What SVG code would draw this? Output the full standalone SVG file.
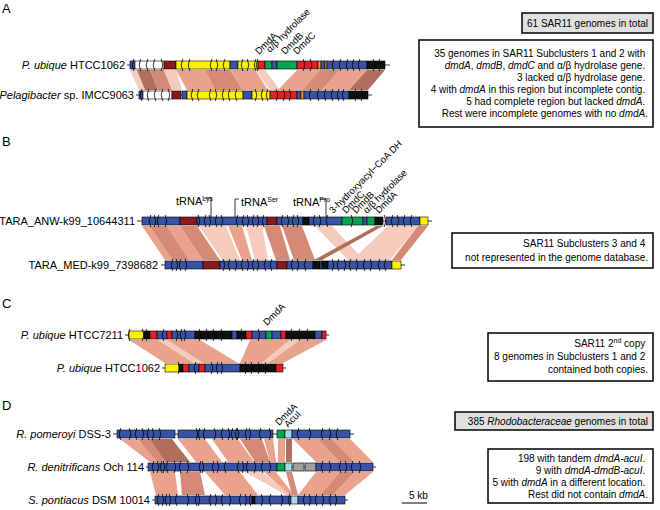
<svg xmlns="http://www.w3.org/2000/svg" xmlns:xlink="http://www.w3.org/1999/xlink" width="660" height="510" viewBox="0 0 660 510">
<style>
text{font-family:"Liberation Sans",Arial,sans-serif;fill:#000}
.lab{font-size:11px}
.pl{font-size:13px}
.box{font-size:10px}
.rot{font-size:9.5px}
.it{font-style:italic}
.bl{stroke:#000;stroke-width:0.8;fill:none}
.g{stroke:#000;stroke-width:0.6}
.bu{fill:#3953a4}.dr{fill:#8b1a1a}.re{fill:#e31e24}.ye{fill:#fff200}.gr{fill:#00a651}.or{fill:#f7941d}.bk{fill:#111}.wh{fill:#fff}.gy{fill:#a0a0a0}.lb{fill:#a8d8f0}
.r1{fill:#f4cbbd}.r2{fill:#e9a38d}.r3{fill:#d48a74}.r4{fill:#b06e5e}
.fr{fill:#fff;stroke:#000;stroke-width:1.5}
.fg{fill:#e0e0e0;stroke:#000;stroke-width:1.5}
</style>
<defs>
<path id="tr" d="M-0.8,-6 L0.8,0 L-0.8,6" fill="none" stroke="#000" stroke-width="0.8"/>
<path id="tl" d="M0.8,-6 L-0.8,0 L0.8,6" fill="none" stroke="#000" stroke-width="0.8"/>
</defs>

<!-- panel letters -->
<text class="pl" x="2" y="13">A</text>
<text class="pl" x="2" y="146">B</text>
<text class="pl" x="2" y="308">C</text>
<text class="pl" x="2" y="410">D</text>

<!-- connectors / ribbons -->
<g id="connectors">
<!-- A -->
<polygon class="r1" points="130,70 137,70 145,90 139,90"/>
<polygon class="r4" points="137,70 150,70 158,90 145,90"/>
<polygon class="r3" points="150,70 164,70 172,90 158,90"/>
<polygon class="r1" points="164,70 176,70 182,90 172,90"/>
<polygon class="r2" points="176,70 205,70 215,90 187,90"/>
<polygon class="r3" points="205,70 230,70 243,90 215,90"/>
<polygon class="r2" points="230,70 255,70 268,90 243,90"/>
<polygon class="r1" points="255,70 265,70 280,90 270,90"/>
<polygon class="r2" points="297,70 320,70 302,90 278,90"/>
<polygon class="r3" points="320,70 340,70 322,90 302,90"/>
<polygon class="r2" points="340,70 367,70 349,90 322,90"/>
<polygon class="r4" points="367,70 385,70 368,90 349,90"/>
<!-- B -->
<polygon class="r2" points="142,226 180,226 203,260 165,260"/>
<polygon class="r3" points="150,226 166,226 189,260 173,260"/>
<polygon class="r3" points="180,226 197,226 220,260 203,260"/>
<polygon class="r1" points="199,226 226,226 240,260 222,260"/>
<polygon class="r2" points="228,226 242,226 252,260 242,260"/>
<polygon class="r1" points="246,226 262,226 268,260 255,260"/>
<polygon class="r3" points="264,226 280,226 290,260 276,260"/>
<polygon class="r3" points="282,226 302,226 315,260 294,260"/>
<polygon class="r1" points="315,226 332,226 364,260 348,260"/>
<polygon class="r4" points="376,226 383,226 322,260 314,260"/>
<polygon class="r1" points="388,226 418,226 390,260 352,260"/>
<polygon class="r3" points="418,226 428,226 401,260 392,260"/>
<!-- C -->
<polygon class="r2" points="129,340 158,340 194,363 165,363"/>
<polygon class="r1" points="158,340 167,340 203,363 194,363"/>
<polygon class="r2" points="167,340 200,340 238,363 203,363"/>
<polygon class="r2" points="250,340 290,340 262,363 240,363"/>
<polygon class="r1" points="290,340 300,340 268,363 262,363"/>
<polygon class="r2" points="300,340 326,340 283,363 268,363"/>
<!-- D1 -->
<polygon class="r2" points="120,439 136,439 160,462 150,462"/>
<polygon class="r3" points="137,439 150,439 172,462 158,462"/>
<polygon class="r4" points="150,439 172,439 190,462 166,462"/>
<polygon class="r2" points="178,439 205,439 222,462 196,462"/>
<polygon class="r2" points="212,439 238,439 254,462 228,462"/>
<polygon class="r3" points="240,439 262,439 270,462 255,462"/>
<polygon class="r2" points="264,439 273,439 276,462 270,462"/>
<polygon class="r2" points="278,439 285,439 285,462 278,462"/>
<polygon class="r4" points="286,439 292,439 292,462 286,462"/>
<polygon class="r2" points="293,439 318,439 340,462 316,462"/>
<polygon class="r3" points="318,439 332,439 355,462 340,462"/>
<polygon class="r2" points="332,439 350,439 373,462 355,462"/>
<!-- D2 -->
<polygon class="r2" points="150,472 175,472 178,495 156,495"/>
<polygon class="r3" points="180,472 200,472 205,495 182,495"/>
<polygon class="r2" points="205,472 240,472 258,495 225,495"/>
<polygon class="r1" points="245,472 262,472 292,495 286,495"/>
<polygon class="r2" points="264,472 276,472 294,495 290,495"/>
<polygon class="r3" points="286,472 292,472 298,495 292,495"/>
<polygon class="r2" points="316,472 340,472 320,495 298,495"/>
<polygon class="r3" points="340,472 355,472 333,495 320,495"/>
<polygon class="r2" points="355,472 373,472 345,495 333,495"/>
</g>

<!-- ===== Panel A ===== -->
<g id="A1">
<text class="lab" x="125" y="69" text-anchor="end"><tspan class="it">P. ubique</tspan> HTCC1062</text>
<line class="bl" x1="127" y1="65" x2="390" y2="65"/>
<rect class="g bu" x="130" y="61" width="5" height="8"/>
<rect class="g wh" x="135" y="61" width="29" height="8"/>
<rect class="g dr" x="164" y="61" width="12" height="8"/>
<rect class="g ye" x="176" y="61" width="54" height="8"/>
<rect class="g bu" x="230" y="61" width="8" height="8"/>
<rect class="g ye" x="238" y="61" width="20" height="8"/>
<rect class="g re" x="258" y="61" width="7" height="8"/>
<rect class="g gr" x="265" y="61" width="7" height="8"/>
<rect class="g bu" x="272" y="61" width="5" height="8"/>
<rect class="g gr" x="277" y="61" width="20" height="8"/>
<rect class="g re" x="297" y="61" width="21" height="8"/>
<rect class="g or" x="318" y="61" width="3" height="8"/>
<rect class="g bu" x="321" y="61" width="4" height="8"/>
<rect class="g or" x="325" y="61" width="2" height="8"/>
<rect class="g bu" x="327" y="61" width="40" height="8"/>
<rect class="g bk" x="367" y="61" width="18" height="8"/>
<g>
<use href="#tl" x="133" y="65"/><use href="#tl" x="140" y="65"/><use href="#tl" x="147" y="65"/><use href="#tl" x="154" y="65"/><use href="#tr" x="162" y="65"/>
<use href="#tl" x="182" y="65"/><use href="#tl" x="189" y="65"/><use href="#tl" x="211" y="65"/><use href="#tr" x="217" y="65"/><use href="#tl" x="224" y="65"/><use href="#tl" x="242" y="65"/><use href="#tr" x="248" y="65"/><use href="#tl" x="255" y="65"/><use href="#tl" x="257" y="65"/>
<use href="#tr" x="304" y="65"/><use href="#tr" x="311" y="65"/><use href="#tl" x="333" y="65"/><use href="#tl" x="340" y="65"/><use href="#tl" x="347" y="65"/><use href="#tl" x="353" y="65"/><use href="#tl" x="359" y="65"/><use href="#tr" x="374" y="65"/><use href="#tr" x="380" y="65"/>
</g>
<text class="rot" transform="translate(259,55) rotate(-45)">DmdA</text>
<text class="rot" transform="translate(270,53) rotate(-45)">α/β hydrolase</text>
<text class="rot" transform="translate(285,55) rotate(-45)">DmdB</text>
<text class="rot" transform="translate(297,55) rotate(-45)">DmdC</text>
</g>

<g id="A2">
<text class="lab" x="134" y="99" text-anchor="end"><tspan class="it">Pelagibacter</tspan> sp. IMCC9063</text>
<line class="bl" x1="136" y1="95" x2="372" y2="95"/>
<rect class="g bu" x="139" y="91" width="4" height="8"/>
<rect class="g wh" x="143" y="91" width="29" height="8"/>
<rect class="g dr" x="172" y="91" width="9" height="8"/>
<rect class="g bu" x="182" y="91" width="5" height="8"/>
<rect class="g ye" x="187" y="91" width="56" height="8"/>
<rect class="g bu" x="243" y="91" width="9" height="8"/>
<rect class="g ye" x="252" y="91" width="18" height="8"/>
<rect class="g re" x="270" y="91" width="27" height="8"/>
<rect class="g bu" x="297" y="91" width="4" height="8"/>
<rect class="g or" x="301" y="91" width="3" height="8"/>
<rect class="g bu" x="304" y="91" width="45" height="8"/>
<rect class="g bk" x="349" y="91" width="19" height="8"/>
<g>
<use href="#tl" x="141" y="95"/><use href="#tl" x="148" y="95"/><use href="#tl" x="155" y="95"/><use href="#tl" x="162" y="95"/><use href="#tr" x="169" y="95"/>
<use href="#tl" x="192" y="95"/><use href="#tl" x="198" y="95"/><use href="#tl" x="210" y="95"/><use href="#tr" x="216" y="95"/><use href="#tl" x="223" y="95"/><use href="#tl" x="229" y="95"/><use href="#tl" x="236" y="95"/><use href="#tr" x="256" y="95"/><use href="#tl" x="262" y="95"/><use href="#tl" x="267" y="95"/>
<use href="#tr" x="277" y="95"/><use href="#tr" x="284" y="95"/><use href="#tr" x="290" y="95"/><use href="#tl" x="310" y="95"/><use href="#tl" x="318" y="95"/><use href="#tl" x="325" y="95"/><use href="#tl" x="332" y="95"/><use href="#tl" x="338" y="95"/><use href="#tl" x="343" y="95"/><use href="#tr" x="356" y="95"/><use href="#tr" x="362" y="95"/>
</g>
</g>

<g id="A-boxes">
<rect class="fg" x="522" y="13" width="131" height="20"/>
<text class="box" x="648" y="27" text-anchor="end">61 SAR11 genomes in total</text>
<rect class="fr" x="419" y="40" width="234" height="87"/>
<text class="box" text-anchor="end">
<tspan x="648" y="57">35 genomes in SAR11 Subclusters 1 and 2 with</tspan>
<tspan x="648" y="69"><tspan class="it">dmdA</tspan>, <tspan class="it">dmdB</tspan>, <tspan class="it">dmdC</tspan> and α/β hydrolase gene.</tspan>
<tspan x="648" y="81">3 lacked α/β hydrolase gene.</tspan>
<tspan x="648" y="93">4 with <tspan class="it">dmdA</tspan> in this region but incomplete contig.</tspan>
<tspan x="648" y="105">5 had complete region but lacked <tspan class="it">dmdA</tspan>.</tspan>
<tspan x="648" y="117">Rest were incomplete genomes with no <tspan class="it">dmdA</tspan>.</tspan>
</text>
</g>

<!-- ===== Panel B ===== -->
<g id="B1">
<text class="lab" x="135" y="225" text-anchor="end">TARA_ANW-k99_10644311</text>
<line class="bl" x1="137" y1="221" x2="432" y2="221"/>
<rect class="g bu" x="142" y="217" width="38" height="8"/>
<rect class="g dr" x="180" y="217" width="17" height="8"/>
<rect class="g bu" x="197" y="217" width="70" height="8"/>
<rect class="g dr" x="267" y="217" width="10" height="8"/>
<rect class="g bu" x="277" y="217" width="26" height="8"/>
<rect class="g bk" x="303" y="217" width="6" height="8"/>
<rect class="g bu" x="309" y="217" width="33" height="8"/>
<rect class="g gr" x="342" y="217" width="21" height="8"/>
<rect class="g bu" x="363" y="217" width="4" height="8"/>
<rect class="g gr" x="367" y="217" width="8" height="8"/>
<rect class="g bk" x="375" y="217" width="8" height="8"/>
<rect class="g bu" x="386" y="217" width="34" height="8"/>
<rect class="g ye" x="420" y="217" width="8" height="8"/>
<g>
<use href="#tl" x="150" y="221"/><use href="#tr" x="155" y="221"/><use href="#tl" x="158" y="221"/><use href="#tr" x="166" y="221"/><use href="#tr" x="199" y="221"/><use href="#tl" x="205" y="221"/><use href="#tr" x="210" y="221"/><use href="#tl" x="216" y="221"/><use href="#tr" x="222" y="221"/><use href="#tl" x="237" y="221"/><use href="#tl" x="243" y="221"/><use href="#tr" x="248" y="221"/><use href="#tl" x="253" y="221"/><use href="#tr" x="258" y="221"/><use href="#tl" x="263" y="221"/>
<use href="#tl" x="282" y="221"/><use href="#tr" x="288" y="221"/><use href="#tl" x="293" y="221"/><use href="#tr" x="298" y="221"/><use href="#tl" x="314" y="221"/><use href="#tr" x="320" y="221"/><use href="#tl" x="327" y="221"/><use href="#tr" x="352" y="221"/><use href="#tr" x="385" y="221"/><use href="#tl" x="392" y="221"/><use href="#tr" x="398" y="221"/><use href="#tl" x="404" y="221"/><use href="#tl" x="411" y="221"/>
</g>
<text class="lab" x="176" y="205">tRNA<tspan font-size="7" dy="-4">Lys</tspan></text>
<polyline class="bl" points="204,198 211,198 211,217"/>
<text class="lab" x="241" y="206">tRNA<tspan font-size="7" dy="-4">Ser</tspan></text>
<polyline class="bl" points="239,199 235,199 235,217"/>
<text class="lab" x="293" y="206">tRNA<tspan font-size="7" dy="-4">Pro</tspan></text>
<polyline class="bl" points="320,199 326,199 326,217"/>
<text class="rot" transform="translate(333,214) rotate(-45)">3-hydroxyacyl−CoA DH</text>
<text class="rot" transform="translate(346,214) rotate(-45)">DmdC</text>
<text class="rot" transform="translate(356,214) rotate(-45)">DmdB</text>
<text class="rot" transform="translate(367,214) rotate(-45)">α/β hydrolase</text>
<text class="rot" transform="translate(379,214) rotate(-45)">DmdA</text>
</g>

<g id="B2">
<text class="lab" x="158" y="269" text-anchor="end">TARA_MED-k99_7398682</text>
<line class="bl" x1="161" y1="265" x2="405" y2="265"/>
<rect class="g bu" x="165" y="261" width="38" height="8"/>
<rect class="g dr" x="203" y="261" width="17" height="8"/>
<rect class="g bu" x="220" y="261" width="57" height="8"/>
<rect class="g dr" x="277" y="261" width="10" height="8"/>
<rect class="g bu" x="287" y="261" width="26" height="8"/>
<rect class="g bk" x="313" y="261" width="7" height="8"/>
<rect class="g bu" x="320" y="261" width="2" height="8"/>
<rect class="g bk" x="322" y="261" width="6" height="8"/>
<rect class="g bu" x="328" y="261" width="64" height="8"/>
<rect class="g ye" x="392" y="261" width="9" height="8"/>
<g>
<use href="#tl" x="172" y="265"/><use href="#tr" x="177" y="265"/><use href="#tl" x="180" y="265"/><use href="#tr" x="186" y="265"/><use href="#tr" x="224" y="265"/><use href="#tl" x="229" y="265"/><use href="#tr" x="236" y="265"/><use href="#tl" x="242" y="265"/><use href="#tr" x="248" y="265"/><use href="#tl" x="253" y="265"/><use href="#tr" x="258" y="265"/><use href="#tl" x="265" y="265"/><use href="#tl" x="271" y="265"/>
<use href="#tl" x="292" y="265"/><use href="#tr" x="298" y="265"/><use href="#tl" x="305" y="265"/><use href="#tr" x="333" y="265"/><use href="#tl" x="338" y="265"/><use href="#tr" x="345" y="265"/><use href="#tl" x="350" y="265"/><use href="#tr" x="357" y="265"/><use href="#tl" x="364" y="265"/><use href="#tr" x="371" y="265"/><use href="#tl" x="379" y="265"/><use href="#tl" x="385" y="265"/>
</g>
</g>

<g id="B-box">
<rect class="fr" x="452" y="233" width="201" height="35"/>
<text class="box" text-anchor="end">
<tspan x="648" y="247">SAR11 Subclusters 3 and 4</tspan>
<tspan x="648" y="261">not represented in the genome database.</tspan>
</text>
</g>

<!-- ===== Panel C ===== -->
<g id="C1">
<text class="lab" x="123" y="339" text-anchor="end"><tspan class="it">P. ubique</tspan> HTCC7211</text>
<line class="bl" x1="125" y1="335" x2="329" y2="335"/>
<rect class="g ye" x="129" y="331" width="15" height="8"/>
<rect class="g bk" x="144" y="331" width="6" height="8"/>
<rect class="g re" x="150" y="331" width="7" height="8"/>
<rect class="g bu" x="157" y="331" width="10" height="8"/>
<rect class="g re" x="167" y="331" width="5" height="8"/>
<rect class="g bu" x="172" y="331" width="23" height="8"/>
<rect class="g bk" x="195" y="331" width="37" height="8"/>
<rect class="g bu" x="232" y="331" width="5" height="8"/>
<rect class="g bk" x="237" y="331" width="9" height="8"/>
<rect class="g re" x="246" y="331" width="6" height="8"/>
<rect class="g bu" x="252" y="331" width="14" height="8"/>
<rect class="g gr" x="266" y="331" width="6" height="8"/>
<rect class="g bu" x="272" y="331" width="9" height="8"/>
<rect class="g re" x="281" y="331" width="5" height="8"/>
<rect class="g bk" x="286" y="331" width="29" height="8"/>
<rect class="g bu" x="315" y="331" width="7" height="8"/>
<rect class="g re" x="322" y="331" width="4" height="8"/>
<g>
<use href="#tl" x="129" y="335"/><use href="#tr" x="143" y="335"/><use href="#tr" x="147" y="335"/><use href="#tl" x="163" y="335"/><use href="#tr" x="177" y="335"/><use href="#tl" x="181" y="335"/><use href="#tr" x="185" y="335"/><use href="#tr" x="200" y="335"/><use href="#tr" x="207" y="335"/><use href="#tr" x="214" y="335"/><use href="#tr" x="222" y="335"/><use href="#tl" x="241" y="335"/><use href="#tr" x="259" y="335"/><use href="#tr" x="292" y="335"/><use href="#tr" x="300" y="335"/><use href="#tr" x="308" y="335"/>
</g>
<text class="rot" transform="translate(267,326) rotate(-45)">DmdA</text>
</g>

<g id="C2">
<text class="lab" x="160" y="372" text-anchor="end"><tspan class="it">P. ubique</tspan> HTCC1062</text>
<line class="bl" x1="162" y1="368" x2="286" y2="368"/>
<rect class="g ye" x="165" y="364" width="14" height="8"/>
<rect class="g bk" x="179" y="364" width="4" height="8"/>
<rect class="g re" x="183" y="364" width="6" height="8"/>
<rect class="g bu" x="189" y="364" width="10" height="8"/>
<rect class="g re" x="199" y="364" width="6" height="8"/>
<rect class="g bu" x="205" y="364" width="35" height="8"/>
<rect class="g bk" x="240" y="364" width="36" height="8"/>
<rect class="g re" x="276" y="364" width="7" height="8"/>
<g>
<use href="#tr" x="179" y="368"/><use href="#tl" x="195" y="368"/><use href="#tr" x="212" y="368"/><use href="#tl" x="217" y="368"/><use href="#tr" x="222" y="368"/><use href="#tr" x="246" y="368"/><use href="#tr" x="252" y="368"/><use href="#tr" x="259" y="368"/><use href="#tr" x="266" y="368"/>
</g>
</g>

<g id="C-box">
<rect class="fr" x="488" y="333" width="165" height="48"/>
<text class="box" text-anchor="end">
<tspan x="648" y="347">SAR11 2<tspan font-size="7" dy="-4">nd</tspan><tspan dy="4"> copy</tspan></tspan>
<tspan x="648" y="360">8 genomes in Subclusters 1 and 2</tspan>
<tspan x="648" y="373">contained both copies.</tspan>
</text>
</g>

<!-- ===== Panel D ===== -->
<g id="D1">
<text class="lab" x="111" y="438" text-anchor="end"><tspan class="it">R. pomeroyi</tspan> DSS-3</text>
<line class="bl" x1="113" y1="434" x2="354" y2="434"/>
<rect class="g bu" x="117" y="430" width="58" height="8"/>
<rect class="g bu" x="178" y="430" width="95" height="8"/>
<rect class="g gr" x="277" y="430" width="8" height="8"/>
<rect class="g lb" x="285" y="430" width="7" height="8"/>
<rect class="g bu" x="292" y="430" width="58" height="8"/>
<g>
<use href="#tl" x="120" y="434"/><use href="#tr" x="130" y="434"/><use href="#tl" x="136" y="434"/><use href="#tr" x="143" y="434"/><use href="#tl" x="148" y="434"/><use href="#tr" x="153" y="434"/><use href="#tr" x="160" y="434"/><use href="#tr" x="197" y="434"/><use href="#tl" x="199" y="434"/><use href="#tl" x="204" y="434"/><use href="#tr" x="215" y="434"/><use href="#tl" x="222" y="434"/><use href="#tr" x="229" y="434"/><use href="#tl" x="232" y="434"/><use href="#tl" x="236" y="434"/><use href="#tr" x="238" y="434"/><use href="#tl" x="246" y="434"/><use href="#tr" x="250" y="434"/><use href="#tl" x="260" y="434"/><use href="#tr" x="270" y="434"/>
<use href="#tl" x="298" y="434"/><use href="#tr" x="310" y="434"/><use href="#tl" x="322" y="434"/><use href="#tr" x="330" y="434"/><use href="#tl" x="337" y="434"/>
</g>
<text class="rot" transform="translate(279,426) rotate(-45)">DmdA</text>
<text class="rot" transform="translate(288,428) rotate(-45)">AcuI</text>
</g>

<g id="D2">
<text class="lab" x="144" y="471" text-anchor="end"><tspan class="it">R. denitrificans</tspan> Och 114</text>
<line class="bl" x1="146" y1="467" x2="376" y2="467"/>
<rect class="g bu" x="148" y="463" width="129" height="8"/>
<rect class="g gr" x="277" y="463" width="8" height="8"/>
<rect class="g lb" x="285" y="463" width="7" height="8"/>
<rect class="g gy" x="293" y="463" width="11" height="8"/>
<rect class="g gy" x="305" y="463" width="11" height="8"/>
<rect class="g bu" x="316" y="463" width="57" height="8"/>
<g>
<use href="#tl" x="153" y="467"/><use href="#tr" x="158" y="467"/><use href="#tl" x="161" y="467"/><use href="#tr" x="164" y="467"/><use href="#tl" x="167" y="467"/><use href="#tr" x="175" y="467"/><use href="#tl" x="180" y="467"/><use href="#tr" x="188" y="467"/><use href="#tl" x="200" y="467"/><use href="#tr" x="203" y="467"/><use href="#tl" x="213" y="467"/><use href="#tr" x="218" y="467"/><use href="#tl" x="225" y="467"/><use href="#tl" x="238" y="467"/><use href="#tr" x="243" y="467"/><use href="#tl" x="247" y="467"/><use href="#tr" x="255" y="467"/><use href="#tl" x="262" y="467"/><use href="#tr" x="270" y="467"/>
<use href="#tl" x="322" y="467"/><use href="#tr" x="330" y="467"/><use href="#tl" x="340" y="467"/><use href="#tr" x="346" y="467"/><use href="#tl" x="352" y="467"/><use href="#tr" x="360" y="467"/>
</g>
</g>

<g id="D3">
<text class="lab" x="150" y="504" text-anchor="end"><tspan class="it">S. pontiacus</tspan> DSM 10014</text>
<line class="bl" x1="152" y1="500" x2="348" y2="500"/>
<rect class="g bu" x="155" y="496" width="97" height="8"/>
<rect class="g bk" x="252" y="496" width="3" height="8"/>
<rect class="g bu" x="255" y="496" width="36" height="8"/>
<rect class="g lb" x="291" y="496" width="7" height="8"/>
<rect class="g bu" x="298" y="496" width="47" height="8"/>
<g>
<use href="#tl" x="158" y="500"/><use href="#tr" x="163" y="500"/><use href="#tl" x="166" y="500"/><use href="#tr" x="170" y="500"/><use href="#tl" x="176" y="500"/><use href="#tr" x="188" y="500"/><use href="#tl" x="196" y="500"/><use href="#tr" x="199" y="500"/><use href="#tl" x="210" y="500"/><use href="#tr" x="216" y="500"/><use href="#tl" x="222" y="500"/><use href="#tr" x="230" y="500"/><use href="#tl" x="240" y="500"/><use href="#tr" x="246" y="500"/><use href="#tl" x="250" y="500"/><use href="#tr" x="262" y="500"/><use href="#tl" x="270" y="500"/><use href="#tr" x="282" y="500"/><use href="#tl" x="289" y="500"/>
<use href="#tl" x="304" y="500"/><use href="#tr" x="310" y="500"/><use href="#tl" x="316" y="500"/><use href="#tr" x="323" y="500"/><use href="#tl" x="330" y="500"/><use href="#tr" x="336" y="500"/>
</g>
</g>

<g id="D-boxes">
<rect class="fg" x="455" y="412" width="198" height="18"/>
<text class="box" x="648" y="425" text-anchor="end">385 <tspan class="it">Rhodobacteraceae</tspan> genomes in total</text>
<rect class="fr" x="488" y="449" width="165" height="54"/>
<text class="box" text-anchor="end">
<tspan x="648" y="462">198 with tandem <tspan class="it">dmdA-acuI</tspan>.</tspan>
<tspan x="648" y="474">9 with <tspan class="it">dmdA-dmdB-acuI</tspan>.</tspan>
<tspan x="648" y="486">5 with <tspan class="it">dmdA</tspan> in a different location.</tspan>
<tspan x="648" y="498">Rest did not contain <tspan class="it">dmdA</tspan>.</tspan>
</text>
</g>

<g id="scale">
<text class="box" x="409" y="499">5 kb</text>
<line x1="402" y1="503" x2="427" y2="503" stroke="#000" stroke-width="1"/>
</g>
</svg>
